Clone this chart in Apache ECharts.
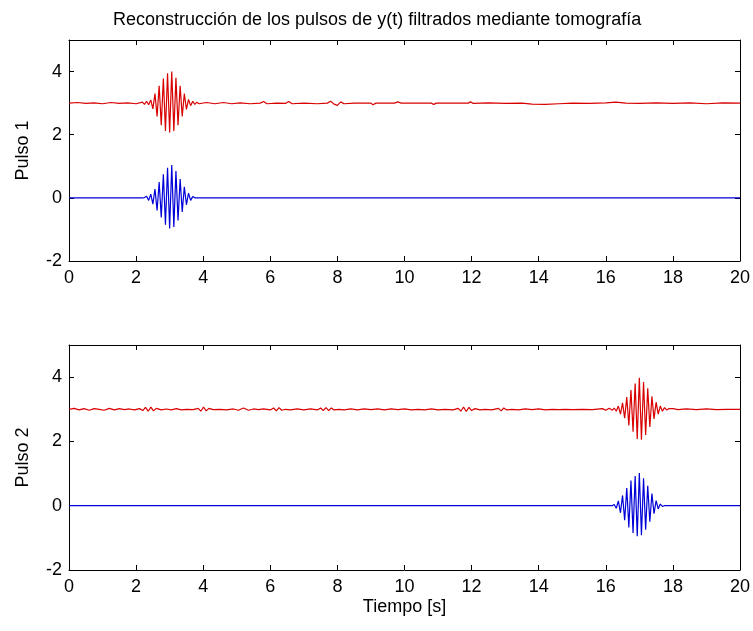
<!DOCTYPE html>
<html>
<head>
<meta charset="utf-8">
<script src="https://cdn.jsdelivr.net/npm/echarts/dist/echarts.min.js"></script>
<style>
html,body{margin:0;padding:0;background:#fff;}
#chart{width:753px;height:631px;}
</style>
</head>
<body>
<div id="chart"></div>
<script>
const titulo = 'Reconstrucción de los pulsos de y(t) filtrados mediante tomografía';
const nombreX = 'Tiempo [s]';
const nombresY = ['Pulso 1', 'Pulso 2'];
const xTicks = { min: 0, max: 20, interval: 2 };
const yTicks = { min: -2, max: 5, interval: 2 };

// Pulso 1 — señal azul (original)
const pulso1Azul = [
  [0,0],[2.1875,0],[2.25,0.01],[2.3125,0.05],[2.375,-0.08],[2.4375,0.12],[2.5,-0.2],[2.5625,0.28],
  [2.625,-0.4],[2.6875,0.5],[2.75,-0.62],[2.8125,0.75],[2.875,-0.85],[2.9375,0.95],[3.0,-0.97],
  [3.0625,1.04],[3.125,-0.92],[3.1875,0.85],[3.25,-0.72],[3.3125,0.6],[3.375,-0.45],[3.4375,0.35],
  [3.5,-0.22],[3.5625,0.15],[3.625,-0.08],[3.6875,0.04],[3.75,0],[20,0]
];
// Pulso 1 — señal roja (reconstruida, desplazada +3)
const pulso1Rojo = [
  [0,3.0],[0.25,3.02],[0.5,2.99],[0.75,3.01],[1.0,2.98],[1.25,3.02],[1.5,2.99],[1.75,3.01],[2.0,2.98],
  [2.1875,3.03],[2.25,2.96],[2.3125,3.06],[2.375,2.95],[2.4375,3.1],[2.5,2.82],[2.5625,3.3],[2.625,2.58],
  [2.6875,3.55],[2.75,2.3],[2.8125,3.78],[2.875,2.12],[2.9375,3.95],[3.0,2.07],[3.0625,4.0],[3.125,2.12],
  [3.1875,3.8],[3.25,2.3],[3.3125,3.55],[3.375,2.58],[3.4375,3.3],[3.5,2.8],[3.5625,3.12],[3.625,2.92],
  [3.6875,3.06],[3.75,2.96],[3.8125,3.03],[3.875,2.98],[4.1,3.02],[4.35,2.98],[4.6,3.02],[4.85,2.98],
  [5.1,3.01],[5.4,2.98],[5.7,3.0],[5.8,3.05],[5.9,2.98],[6.2,3.0],[6.45,2.99],[6.55,3.05],[6.65,2.98],
  [7.0,3.0],[7.4,2.98],[7.7,3.0],[7.8,3.06],[7.9,2.97],[8.0,2.93],[8.1,3.04],[8.2,2.98],[8.5,3.0],
  [9.0,3.0],[9.06,2.95],[9.15,3.0],[9.7,3.0],[9.8,3.04],[9.9,3.0],[10.8,3.0],[10.87,2.96],[10.95,3.0],
  [11.9,3.0],[11.97,3.04],[12.05,2.99],[12.5,3.01],[13.0,2.99],[13.5,3.0],[13.8,2.97],[14.2,2.96],
  [14.6,2.98],[15.0,3.0],[15.5,2.99],[16.0,3.01],[16.3,3.03],[16.6,3.0],[17.0,2.99],[17.5,3.01],
  [18.0,2.99],[18.5,3.01],[19.0,2.98],[19.5,3.01],[20,3.0]
];
// Pulso 2 — señal azul (original)
const pulso2Azul = [
  [0,0],[16.1875,0],[16.25,0.04],[16.3125,-0.08],[16.375,0.15],[16.4375,-0.22],[16.5,0.32],
  [16.5625,-0.45],[16.625,0.55],[16.6875,-0.68],[16.75,0.78],[16.8125,-0.85],[16.875,0.92],
  [16.9375,-0.95],[17.0,1.02],[17.0625,-0.92],[17.125,0.85],[17.1875,-0.75],[17.25,0.62],
  [17.3125,-0.5],[17.375,0.38],[17.4375,-0.25],[17.5,0.16],[17.5625,-0.1],[17.625,0.05],
  [17.6875,-0.02],[17.75,0],[20,0]
];
// Pulso 2 — señal roja (reconstruida, desplazada +3)
const pulso2Rojo = [
  [0,3.0],[0.15,3.03],[0.3,2.98],[0.45,3.02],[0.6,2.97],[0.75,3.02],[0.9,3.0],[1.05,2.97],[1.2,3.03],
  [1.35,2.98],[1.5,3.02],[1.65,2.99],[1.8,3.01],[1.95,2.98],[2.1,3.02],[2.2,2.96],[2.28,3.06],[2.36,2.94],
  [2.44,3.07],[2.52,2.95],[2.6,3.03],[2.75,2.98],[2.9,3.01],[3.05,2.98],[3.2,3.02],[3.35,2.98],[3.5,3.0],
  [3.7,2.99],[3.85,3.03],[3.93,2.94],[4.01,3.07],[4.09,2.95],[4.17,3.03],[4.3,2.99],[4.5,3.0],[4.7,2.98],
  [4.9,3.01],[5.05,2.97],[5.2,3.04],[5.35,2.97],[5.5,3.01],[5.65,2.99],[5.8,3.01],[6.0,2.98],[6.1,3.04],
  [6.18,2.95],[6.26,3.05],[6.34,2.97],[6.45,3.0],[6.6,2.98],[6.8,3.01],[7.0,2.98],[7.2,3.01],[7.4,2.98],
  [7.5,3.04],[7.58,2.96],[7.66,3.05],[7.74,2.96],[7.82,3.04],[7.9,2.98],[8.05,3.0],[8.2,2.98],[8.4,3.01],
  [8.6,2.98],[8.8,3.01],[9.0,2.99],[9.2,3.01],[9.4,2.98],[9.6,3.01],[9.8,2.99],[10.0,3.01],[10.2,2.98],
  [10.4,3.0],[10.6,2.98],[10.8,3.01],[11.0,2.98],[11.2,3.0],[11.45,2.98],[11.6,3.03],[11.68,2.94],
  [11.76,3.07],[11.84,2.93],[11.92,3.06],[12.0,2.96],[12.1,3.02],[12.25,2.98],[12.4,3.0],[12.6,2.98],
  [12.8,3.03],[12.88,2.95],[12.96,3.04],[13.05,2.98],[13.2,3.0],[13.4,2.98],[13.6,3.01],[13.8,2.99],
  [14.0,3.01],[14.2,2.98],[14.4,3.0],[14.6,2.99],[14.8,3.0],[15.0,2.99],[15.3,3.0],[15.6,2.99],
  [15.9,3.02],[16.0,2.97],[16.1,3.03],[16.2,2.97],
  [16.25,3.04],[16.3125,2.94],[16.375,3.1],[16.4375,2.85],[16.5,3.2],[16.5625,2.72],[16.625,3.38],
  [16.6875,2.5],[16.75,3.6],[16.8125,2.3],[16.875,3.8],[16.9375,2.08],[17.0,3.98],[17.0625,2.05],
  [17.125,3.85],[17.1875,2.2],[17.25,3.65],[17.3125,2.45],[17.375,3.4],[17.4375,2.7],[17.5,3.22],
  [17.5625,2.85],[17.625,3.1],[17.6875,2.94],[17.75,3.05],[17.8125,2.98],[17.875,3.02],
  [18.0,3.02],[18.15,2.99],[18.4,3.01],[18.7,2.99],[19.0,3.01],[19.3,2.99],[19.6,3.0],[20,3.0]
];

const FONT = 'Liberation Sans, Arial, sans-serif';
const axisLine = { show: true, onZero: false, lineStyle: { color: '#000', width: 1 } };
const tick = { show: true, inside: true, length: 5, lineStyle: { color: '#000', width: 1 } };

function xAx(grid, pos, labels, name) {
  return {
    type: 'value', gridIndex: grid, position: pos,
    min: xTicks.min, max: xTicks.max, interval: xTicks.interval,
    axisLine, axisTick: tick, splitLine: { show: false },
    axisLabel: { show: labels, color: '#000', fontSize: 18, fontFamily: FONT, margin: 8 },
    name: name || '', nameLocation: 'middle', nameGap: 28,
    nameTextStyle: { color: '#000', fontSize: 18, fontFamily: FONT }
  };
}
function yAx(grid, pos, labels, name) {
  return {
    type: 'value', gridIndex: grid, position: pos,
    min: yTicks.min, max: yTicks.max, interval: yTicks.interval,
    axisLine, axisTick: tick, splitLine: { show: false },
    axisLabel: { show: labels, color: '#000', fontSize: 18, fontFamily: FONT, margin: 7, showMaxLabel: false },
    name: name || '', nameLocation: 'middle', nameGap: 37,
    nameTextStyle: { color: '#000', fontSize: 18, fontFamily: FONT }
  };
}
function line(data, color, xi, yi) {
  return {
    type: 'line', data, xAxisIndex: xi, yAxisIndex: yi, showSymbol: false, symbol: 'none',
    lineStyle: { color, width: 1.2 }, itemStyle: { color }, animation: false, z: 2
  };
}

const chart = echarts.init(document.getElementById('chart'), null, { renderer: 'canvas' });
chart.setOption({
  backgroundColor: '#fff',
  animation: false,
  title: {
    text: titulo, left: 108, top: 6,
    textStyle: { color: '#000', fontSize: 18, fontWeight: 'normal', fontFamily: FONT }
  },
  grid: [
    { left: 69, top: 40, width: 671, height: 221 },
    { left: 69, top: 345, width: 671, height: 225 }
  ],
  xAxis: [
    xAx(0, 'bottom', true), xAx(0, 'top', false),
    xAx(1, 'bottom', true, nombreX), xAx(1, 'top', false)
  ],
  yAxis: [
    yAx(0, 'left', true, nombresY[0]), yAx(0, 'right', false),
    yAx(1, 'left', true, nombresY[1]), yAx(1, 'right', false)
  ],
  series: [
    line(pulso1Rojo, '#d80000', 0, 0),
    line(pulso1Azul, '#0000d8', 0, 0),
    line(pulso2Rojo, '#d80000', 2, 2),
    line(pulso2Azul, '#0000d8', 2, 2)
  ]
});
</script>
</body>
</html>
